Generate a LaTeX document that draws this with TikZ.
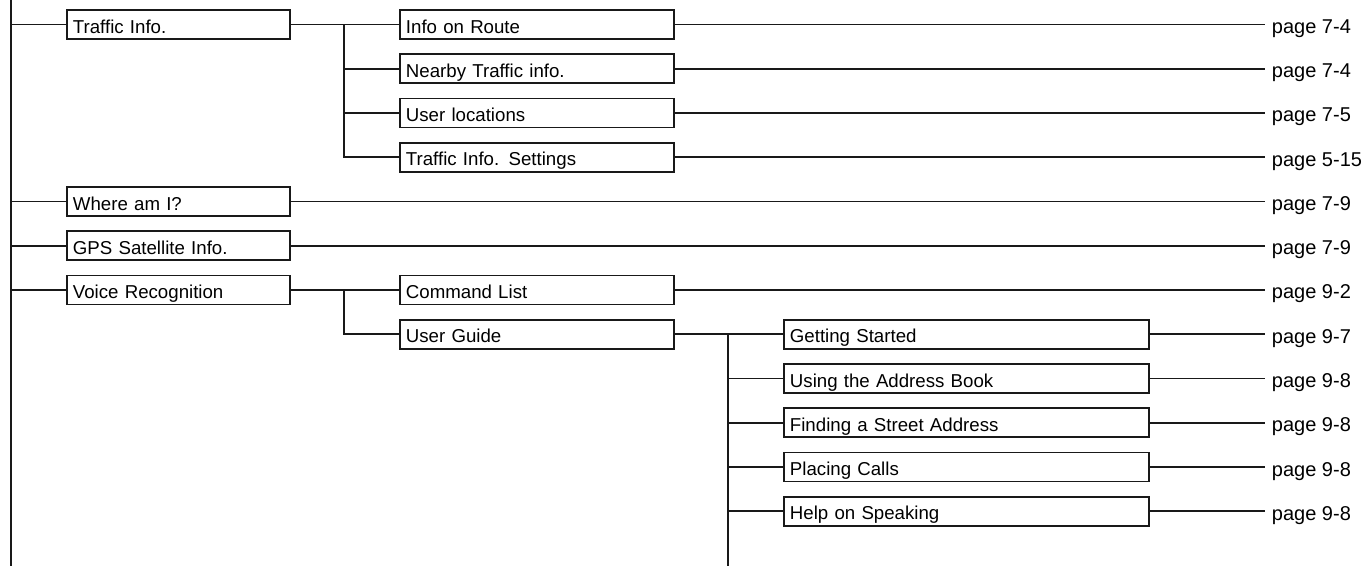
\documentclass[tikz,border=0pt]{standalone}
\usepackage{fontspec}
\setmainfont{Liberation Sans}
\begin{document}
\begin{tikzpicture}[x=0.75pt, y=-0.75pt]
% Menu tree, coordinates in screen px (y grows downwards)
\providecommand{\menuLineColor}{black!90}
\providecommand{\menuLineWidth}{1.4pt}
\tikzset{
  menubox/.style={draw=\menuLineColor, line width=\menuLineWidth, anchor=west,
    minimum height=21.75pt, inner xsep=4.5pt, inner ysep=0pt, align=left,
    text height=13pt, text depth=0pt, font=\fontsize{14}{16}\selectfont},
  boxone/.style={menubox, text width=158.25pt},
  boxtwo/.style={menubox, text width=196.5pt},
  boxthree/.style={menubox, text width=264.75pt},
  pagelbl/.style={anchor=west, inner xsep=5pt, inner ysep=0pt,
    text height=13.5pt, text depth=0pt, font=\fontsize{15}{17}\selectfont},
  link/.style={draw=\menuLineColor, line width=\menuLineWidth}
}
\useasboundingbox (0,0) rectangle (1366,566);
% First level
\node[boxone] (traffic) at (66,24.5) {Traffic Info.};
\node[boxone] (where) at (66,201.5) {Where am I?};
\node[boxone] (gps) at (66,245.75) {GPS Satellite Info.};
\node[boxone] (voice) at (66,290) {Voice Recognition};
% Second level
\node[boxtwo] (route) at (399,24.5) {Info on Route};
\node[boxtwo] (nearby) at (399,68.75) {Nearby Traffic info.};
\node[boxtwo] (userloc) at (399,113) {User locations};
\node[boxtwo] (tisettings) at (399,157.25) {Traffic Info. Settings};
\node[boxtwo] (cmdlist) at (399,290) {Command List};
\node[boxtwo] (guide) at (399,334.25) {User Guide};
% Third level
\node[boxthree] (started) at (783,334.25) {Getting Started};
\node[boxthree] (addrbook) at (783,378.5) {Using the Address Book};
\node[boxthree] (street) at (783,422.75) {Finding a Street Address};
\node[boxthree] (calls) at (783,467) {Placing Calls};
\node[boxthree] (speaking) at (783,511.25) {Help on Speaking};
% Page references
\node[pagelbl] (pg-route) at (1265,24.5) {page 7-4};
\node[pagelbl] (pg-nearby) at (1265,68.75) {page 7-4};
\node[pagelbl] (pg-userloc) at (1265,113) {page 7-5};
\node[pagelbl] (pg-tisettings) at (1265,157.25) {page 5-15};
\node[pagelbl] (pg-where) at (1265,201.5) {page 7-9};
\node[pagelbl] (pg-gps) at (1265,245.75) {page 7-9};
\node[pagelbl] (pg-cmdlist) at (1265,290) {page 9-2};
\node[pagelbl] (pg-started) at (1265,334.25) {page 9-7};
\node[pagelbl] (pg-addrbook) at (1265,378.5) {page 9-8};
\node[pagelbl] (pg-street) at (1265,422.75) {page 9-8};
\node[pagelbl] (pg-calls) at (1265,467) {page 9-8};
\node[pagelbl] (pg-speaking) at (1265,511.25) {page 9-8};
% Trunk on the left
\coordinate (trunk) at (11,0);
\coordinate (trunkend) at (11,566);
\draw[link] (trunk) -- (trunkend);
\foreach \b in {traffic,where,gps,voice}
  \draw[link] (trunk |- \b.west) -- (\b.west);
% Branches
\coordinate (jtraffic) at (343.7,24.5);
\coordinate (jvoice) at (343.7,290);
\coordinate (jguide) at (727.7,334.25);
\coordinate (jguideend) at (727.7,566);
\draw[link] (traffic.east) -- (route.west);
\foreach \b in {nearby,userloc,tisettings}
  \draw[link] (jtraffic) |- (\b.west);
\draw[link] (voice.east) -- (cmdlist.west);
\draw[link] (jvoice) |- (guide.west);
\draw[link] (guide.east) -- (started.west);
\draw[link] (jguide) -- (jguideend);
\foreach \b in {addrbook,street,calls,speaking}
  \draw[link] (jguide |- \b.west) -- (\b.west);
% Leaders to the page numbers
\foreach \b in {route,nearby,userloc,tisettings,where,gps,cmdlist,started,addrbook,street,calls,speaking}
  \draw[link] (\b.east) -- (pg-\b.west);
\end{tikzpicture}
\end{document}
